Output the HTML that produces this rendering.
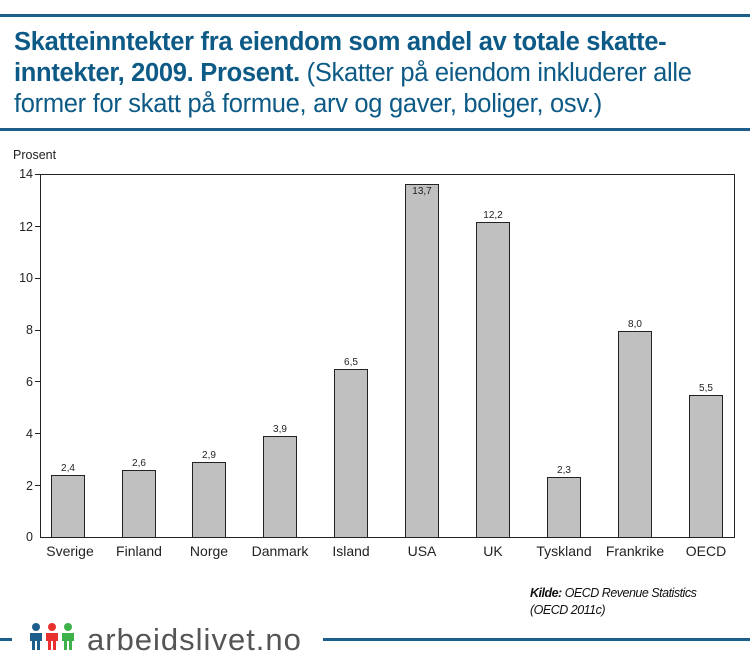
<!DOCTYPE html>
<html><head><meta charset="utf-8"><style>
body{margin:0;width:750px;height:664px;background:#fff;position:relative;overflow:hidden;font-family:"Liberation Sans",sans-serif}
.t{position:absolute;left:14px;top:27px;width:740px;font-size:25.5px;line-height:31px;color:#0d5a86;letter-spacing:-0.3px;white-space:nowrap}
</style></head><body>
<div style="position:absolute;left:0;top:14px;width:750px;height:3px;background:#1c5f8c"></div>
<div class="t"><b>Skatteinntekter fra eiendom som andel av totale skatte-<br>inntekter, 2009. Prosent.</b> (Skatter på eiendom inkluderer alle<br>former for skatt på formue, arv og gaver, boliger, osv.)</div>
<div style="position:absolute;left:0;top:128px;width:750px;height:3px;background:#1c5f8c"></div>
<svg width="750" height="664" style="position:absolute;left:0;top:0" font-family="Liberation Sans, sans-serif">
<text x="13" y="159" font-size="12.5" fill="#222">Prosent</text>
<rect x="40.5" y="174.5" width="694" height="363" fill="none" stroke="#222" stroke-width="1"/>
<g font-size="12.5" fill="#222" text-anchor="end">
<text x="33" y="178">14</text><text x="33" y="231">12</text><text x="33" y="282">10</text><text x="33" y="334">8</text><text x="33" y="386">6</text><text x="33" y="438">4</text><text x="33" y="490">2</text><text x="33" y="541">0</text>
</g>
<g stroke="#222"><line x1="35" y1="174.5" x2="40" y2="174.5"/><line x1="35" y1="226.5" x2="40" y2="226.5"/><line x1="35" y1="278.5" x2="40" y2="278.5"/><line x1="35" y1="330.5" x2="40" y2="330.5"/><line x1="35" y1="381.5" x2="40" y2="381.5"/><line x1="35" y1="433.5" x2="40" y2="433.5"/><line x1="35" y1="485.5" x2="40" y2="485.5"/></g>
<g fill="#c0c0c0" stroke="#222" stroke-width="1">
<rect x="51.5" y="475.5" width="33" height="62"/>
<rect x="122.5" y="470.5" width="33" height="67"/>
<rect x="192.5" y="462.5" width="33" height="75"/>
<rect x="263.5" y="436.5" width="33" height="101"/>
<rect x="334.5" y="369.5" width="33" height="168"/>
<rect x="405.5" y="184.5" width="33" height="353"/>
<rect x="476.5" y="222.5" width="33" height="315"/>
<rect x="547.5" y="477.5" width="33" height="60"/>
<rect x="618.5" y="331.5" width="33" height="206"/>
<rect x="689.5" y="395.5" width="33" height="142"/>
</g>
<g font-size="10" fill="#222" text-anchor="middle">
<text x="68" y="471">2,4</text><text x="139" y="466">2,6</text><text x="209" y="458">2,9</text><text x="280" y="432">3,9</text><text x="351" y="365">6,5</text><text x="422" y="194">13,7</text><text x="493" y="218">12,2</text><text x="564" y="473">2,3</text><text x="635" y="327">8,0</text><text x="706" y="391">5,5</text>
</g>
<g font-size="14" fill="#222" text-anchor="middle">
<text x="70" y="556">Sverige</text><text x="139" y="556">Finland</text><text x="209" y="556">Norge</text><text x="280" y="556">Danmark</text><text x="351" y="556">Island</text><text x="422" y="556">USA</text><text x="493" y="556">UK</text><text x="564" y="556">Tyskland</text><text x="635" y="556">Frankrike</text><text x="706" y="556">OECD</text>
</g>
<g font-size="12.5" fill="#111" font-style="italic" letter-spacing="-0.5">
<text x="530" y="597"><tspan font-weight="bold">Kilde:</tspan> OECD Revenue Statistics</text>
<text x="530" y="614">(OECD 2011c)</text>
</g>
<rect x="0" y="638" width="12" height="3" fill="#1c5f8c"/>
<rect x="323" y="638" width="427" height="3" fill="#1c5f8c"/>
<g>
<circle cx="36" cy="627" r="4" fill="#1c5f8c"/><path d="M30 633h12v8h-2v9h-3v-9h-2v9h-3v-9h-2z" fill="#1c5f8c"/>
<circle cx="52" cy="627" r="4" fill="#e8312f"/><path d="M46 633h12v8h-2v9h-3v-9h-2v9h-3v-9h-2z" fill="#e8312f"/>
<circle cx="68" cy="627" r="4" fill="#3db24a"/><path d="M62 633h12v8h-2v9h-3v-9h-2v9h-3v-9h-2z" fill="#3db24a"/>
</g>
<text x="87" y="650" font-size="31" fill="#555" letter-spacing="1">arbeidslivet.no</text>
</svg>
</body></html>
